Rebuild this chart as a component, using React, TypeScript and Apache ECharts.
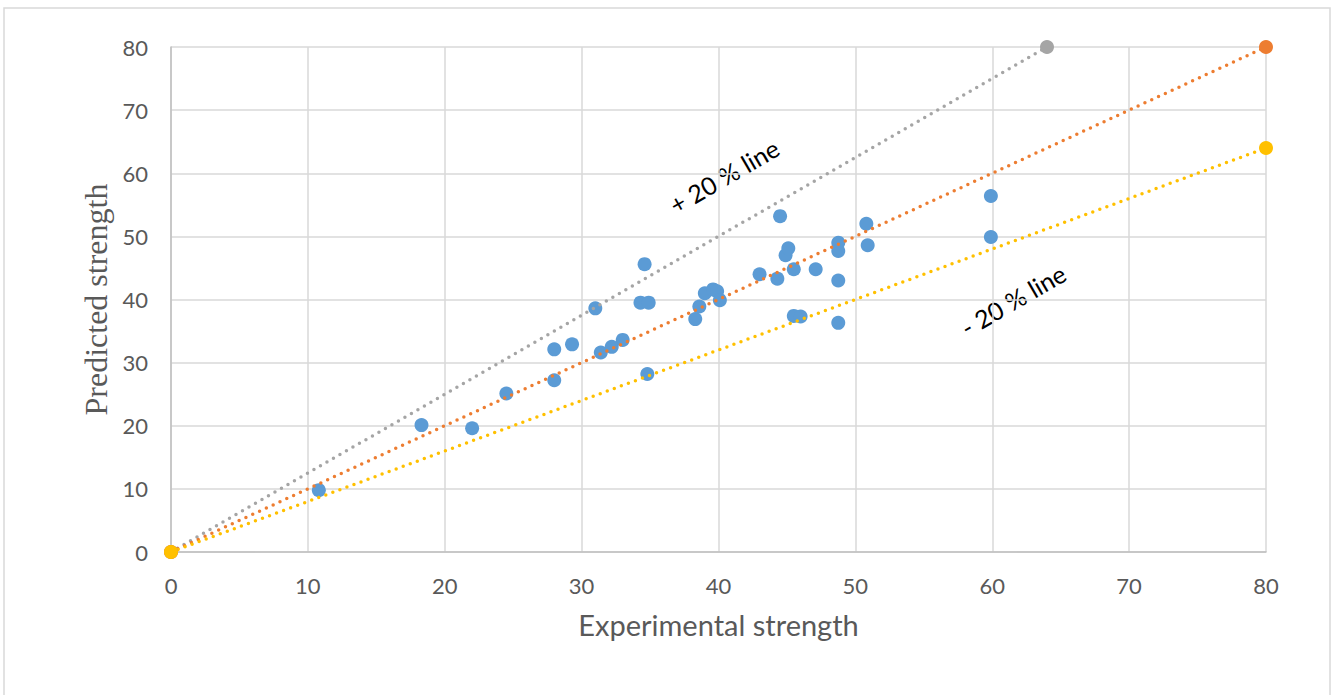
import React, { useEffect, useRef } from "react";
import * as echarts from "echarts";

const experimental = [
  10.8, 18.3, 22.0, 24.5, 28.0, 28.0, 29.3, 31.0, 31.4, 32.2, 33.0, 34.6, 34.3, 34.9, 34.8,
  38.3, 38.6, 39.0, 39.6, 39.9, 40.1, 43.0, 44.3, 44.5, 44.9, 45.1, 45.5, 45.5, 46.0, 47.1,
  48.75, 48.75, 48.75, 48.75, 50.8, 50.9, 59.9, 59.9,
];
const predicted = [
  9.8, 20.1, 19.6, 25.1, 32.1, 27.2, 32.9, 38.6, 31.6, 32.5, 33.6, 45.6, 39.5, 39.5, 28.2,
  36.9, 38.9, 41.0, 41.6, 41.3, 39.9, 44.0, 43.3, 53.2, 47.0, 48.1, 37.4, 44.8, 37.3, 44.8,
  49.0, 47.7, 43.0, 36.3, 52.0, 48.6, 56.4, 49.9,
];

const plusLineX = [0, 64];
const plusLineY = [0, 80];
const equalLineX = [0, 80];
const equalLineY = [0, 80];
const minusLineX = [0, 80];
const minusLineY = [0, 64];

const axisTicks = [0, 10, 20, 30, 40, 50, 60, 70, 80];

const zip = (a: number[], b: number[]) => a.map((v, i) => [v, b[i]]);

const FONT = "Lato, 'Open Sans', sans-serif";

export default function App() {
  const ref = useRef<HTMLDivElement>(null);
  useEffect(() => {
    if (!ref.current) return;
    const chart = echarts.init(ref.current, undefined, { renderer: "svg" });
    const lineSeries = (name: string, xs: number[], ys: number[], color: string) => ({
      name,
      type: "line",
      data: zip(xs, ys),
      symbol: "circle",
      symbolSize: 14,
      showSymbol: true,
      itemStyle: { color },
      lineStyle: { color, width: 3.5, type: [0, 7.5], cap: "round" },
      z: 3,
    });
    chart.setOption({
      animation: false,
      backgroundColor: "#ffffff",
      grid: { left: 171, right: 66, top: 47, bottom: 143, containLabel: false },
      xAxis: {
        type: "value",
        min: axisTicks[0],
        max: axisTicks[axisTicks.length - 1],
        interval: 10,
        name: "Experimental strength",
        nameLocation: "middle",
        nameGap: 58,
        nameTextStyle: { fontFamily: FONT, fontSize: 29, color: "#595959" },
        axisLine: { lineStyle: { color: "#bfbfbf", width: 1.5 } },
        axisTick: { show: false },
        axisLabel: { fontFamily: FONT, fontSize: 22, color: "#595959", margin: 22 },
        splitLine: { show: true, lineStyle: { color: "#d9d9d9", width: 1.5 } },
      },
      yAxis: {
        type: "value",
        min: axisTicks[0],
        max: axisTicks[axisTicks.length - 1],
        interval: 10,
        name: "Predicted strength",
        nameLocation: "middle",
        nameGap: 56,
        nameRotate: 90,
        nameTextStyle: { fontFamily: "'Liberation Serif', 'DejaVu Serif', serif", fontSize: 32, color: "#595959" },
        axisLine: { show: true, lineStyle: { color: "#bfbfbf", width: 1.5 } },
        axisTick: { show: false },
        axisLabel: { fontFamily: FONT, fontSize: 22, color: "#595959", margin: 23 },
        splitLine: { show: true, lineStyle: { color: "#d9d9d9", width: 1.5 } },
      },
      series: [
        {
          name: "Data",
          type: "scatter",
          data: zip(experimental, predicted),
          symbol: "circle",
          symbolSize: 14,
          itemStyle: { color: "#5B9BD5", opacity: 1 },
          z: 2,
        },
        lineSeries("+20%", plusLineX, plusLineY, "#A5A5A5"),
        lineSeries("Equal", equalLineX, equalLineY, "#ED7D31"),
        lineSeries("-20%", minusLineX, minusLineY, "#FFC000"),
      ],
      graphic: [
        {
          type: "rect",
          shape: { x: 4, y: 8, width: 1326, height: 700 },
          style: { fill: "none", stroke: "#d9d9d9", lineWidth: 1.5 },
          silent: true,
          z: -10,
        },
        {
          type: "text",
          x: 724,
          y: 176,
          rotation: Math.PI / 6,
          style: {
            text: "+ 20 % line",
            fontFamily: FONT,
            fontSize: 25,
            fill: "#000000",
            align: "center",
            verticalAlign: "middle",
          },
        },
        {
          type: "text",
          x: 1013,
          y: 300,
          rotation: Math.PI / 6,
          style: {
            text: "- 20 % line",
            fontFamily: FONT,
            fontSize: 25,
            fill: "#000000",
            align: "center",
            verticalAlign: "middle",
          },
        },
      ],
    });
    return () => chart.dispose();
  }, []);
  return (
    <div
      ref={ref}
      style={{ position: "absolute", left: 0, top: 0, width: 1332, height: 695, overflow: "hidden" }}
    />
  );
}
